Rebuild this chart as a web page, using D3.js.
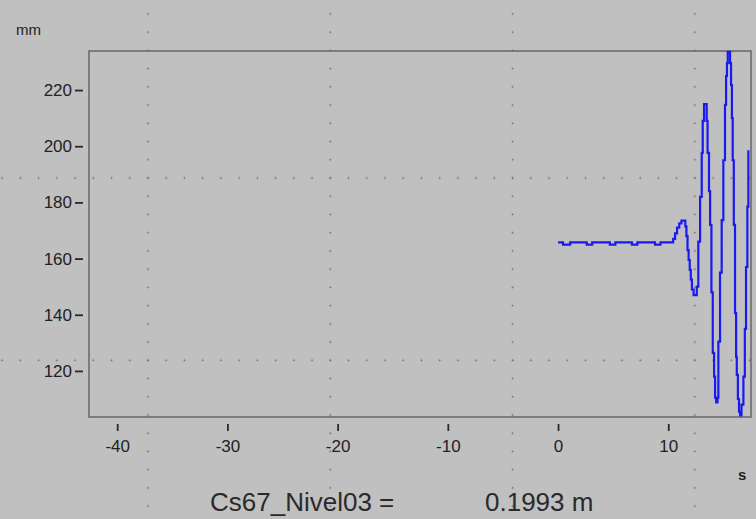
<!DOCTYPE html>
<html>
<head>
<meta charset="utf-8">
<script src="https://cdn.jsdelivr.net/npm/d3@7"></script>
<style>
  html, body { margin: 0; padding: 0; background: #c0c0c0; }
  svg { display: block; font-family: "Liberation Sans", Arial, sans-serif; }
</style>
</head>
<body>
<svg width="756" height="519"></svg>
<script>
// sample times (s) where the level steps, and the held level (mm)
const times = [0, 0.45, 1.1, 2.6, 3.1, 4.7, 5.2, 6.7, 7.2, 8.8, 9.3,
  10.45, 10.62, 10.8, 11.0, 11.2, 11.55, 11.65, 11.75, 11.85, 11.95, 12.05, 12.15, 12.3,
  12.59, 12.73, 12.89, 13.04, 13.13, 13.25, 13.49, 13.57, 13.70, 13.80, 13.92,
  14.04, 14.16, 14.25, 14.35, 14.47, 14.55, 14.70, 14.85, 15.0, 15.15, 15.25, 15.33,
  15.40, 15.61, 15.70, 15.78, 15.85, 15.95, 16.06, 16.16, 16.22, 16.32, 16.42, 16.52,
  16.65, 16.82, 16.95, 17.06, 17.18, 17.27]
const levels = [165.8, 165.0, 165.8, 165.0, 165.8, 165.0, 165.8, 165.0, 165.8, 165.0, 165.8,
  167, 169, 171, 172.5, 173.5, 171.5, 168, 163, 159.5, 156, 152.5, 149, 147,
  150, 166, 182, 197.6, 209, 215, 209, 197.6, 184, 172, 148,
  126.4, 118, 110.5, 108.8, 110.5, 130.4, 155, 173.7, 195, 214.7, 225, 229.6,
  233.6, 229.6, 221.8, 210, 195, 172, 140.6, 125, 118.6, 110, 105.5, 104.2,
  108, 118, 135, 157, 178.5, 198.6]

const xTicks = [-40, -30, -20, -10, 0, 10]
const yTicks = [120, 140, 160, 180, 200, 220]
const signalName = 'Cs67_Nivel03 ='
const signalValue = '0.1993 m'

const W = 756, H = 519
const plot = { left: 89, top: 51, right: 751, bottom: 417 }

const svg = d3.select('svg')
svg.append('rect').attr('width', W).attr('height', H).attr('fill', '#c0c0c0')

const x = d3.scaleLinear().domain([-42.56, 17.51]).range([plot.left, plot.right])
const y = d3.scaleLinear().domain([103.6, 233.9]).range([plot.bottom, plot.top])

// dotted background grid of the window (every 10th dot is a grid line)
const step = 18.23
const gx = [148, 148 + step * 10, 148 + step * 20, 148 + step * 30]
const gy = [178, 178 + step * 10]
const dots = []
gy.forEach(yy => { for (let k = -9; k < 36; k++) dots.push([148 + k * step, yy]) })
gx.forEach(xx => { for (let k = -10; k < 20; k++) dots.push([xx, 178 + k * step]) })
const visible = dots.filter(d => d[0] > 0 && d[0] < W && d[1] > 0 && d[1] < H)
const dg = svg.append('g')
dg.selectAll('path').data(visible)
  .enter().append('path')
  .attr('d', d => `M${d[0] - 1.5},${d[1]}h3M${d[0]},${d[1] - 1.5}v3`)
  .attr('stroke', '#a2a2a2').attr('stroke-width', 1)
dg.selectAll('rect').data(visible)
  .enter().append('rect')
  .attr('x', d => d[0] - 0.5).attr('y', d => d[1] - 0.5)
  .attr('width', 1).attr('height', 1).attr('fill', '#6e6e6e')

// frame
svg.append('rect')
  .attr('x', plot.left).attr('y', plot.top)
  .attr('width', plot.right - plot.left).attr('height', plot.bottom - plot.top)
  .attr('fill', 'none').attr('stroke', '#6b6b6b').attr('stroke-width', 1.6)

// signal
const data = times.map((t, i) => ({ t, v: levels[i] }))
const line = d3.line().x(d => x(d.t)).y(d => y(d.v)).curve(d3.curveStepAfter)
svg.append('path').datum(data)
  .attr('d', line)
  .attr('fill', 'none')
  .attr('stroke', '#1a1af0')
  .attr('stroke-width', 2.2)

// axes
const xAxis = svg.append('g')
  .attr('transform', `translate(0,424)`)
  .call(d3.axisBottom(x).tickValues(xTicks).tickSize(7).tickPadding(9))
const yAxis = svg.append('g')
  .attr('transform', `translate(83,0)`)
  .call(d3.axisLeft(y).tickValues(yTicks).tickSize(8).tickPadding(3))
;[xAxis, yAxis].forEach(a => {
  a.select('.domain').remove()
  a.selectAll('line').attr('stroke', '#2a2a2a').attr('stroke-width', 1.8)
  a.selectAll('text').attr('fill', '#222').style('font-size', '17px')
    .style('font-family', '"Liberation Sans", Arial, sans-serif')
})
xAxis.selectAll('text').text(d => d < 0 ? '-' + Math.abs(d) : d)

// unit labels
svg.append('text').attr('x', 16).attr('y', 35).text('mm')
  .attr('fill', '#222').style('font-size', '15px')
svg.append('text').attr('x', 738).attr('y', 480).text('s')
  .attr('fill', '#222').style('font-size', '15px').style('font-weight', 'bold')

// current value readout
svg.append('text').attr('x', 210).attr('y', 511).text(signalName)
  .attr('fill', '#2a2a2a').style('font-size', '26px')
svg.append('text').attr('x', 485).attr('y', 511).text(signalValue)
  .attr('fill', '#2a2a2a').style('font-size', '26px')
</script>
</body>
</html>
